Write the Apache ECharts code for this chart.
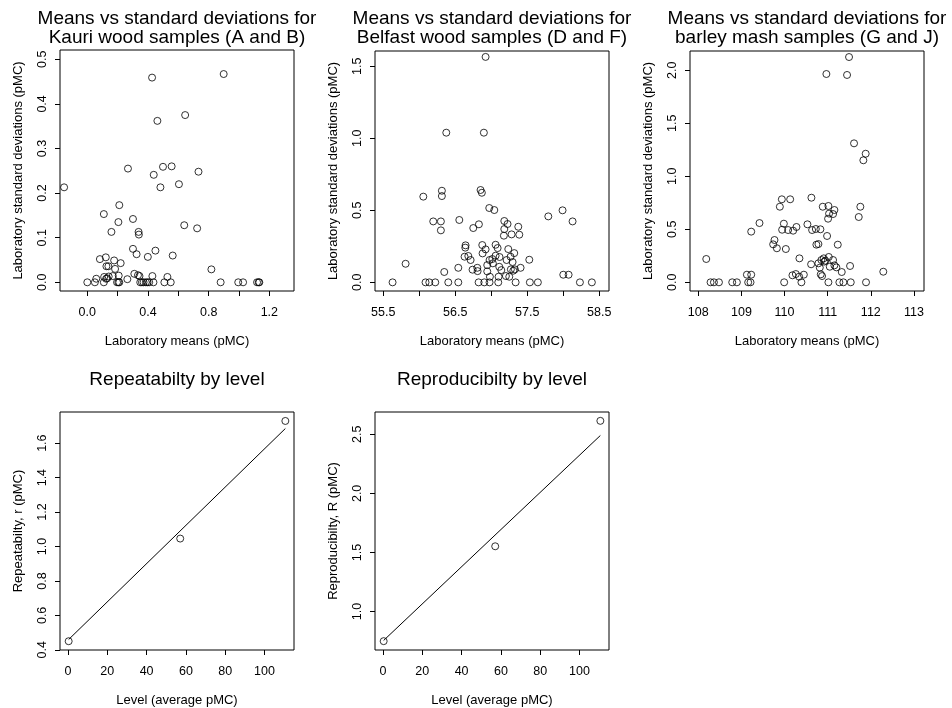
<!DOCTYPE html>
<html>
<head>
<meta charset="utf-8">
<script src="https://cdn.jsdelivr.net/npm/echarts@6/dist/echarts.min.js"></script>
<style>
html,body{margin:0;padding:0;background:#fff;}
#chart{width:952px;height:708px;}
</style>
</head>
<body>
<div id="chart"></div>
<script>
// ---- Data ----
const kauriMeans = [0.427,0.899,0.462,0.645,0.268,0.438,0.499,0.556,0.733,-0.153,0.604,0.482,0.211,0.109,0.205,0.301,0.639,0.724,0.159,0.338,0.340,0.301,0.325,0.449,0.399,0.563,0.083,0.122,0.177,0.220,0.126,0.139,0.183,0.818,0.310,0.334,0.344,0.429,0.528,0.111,0.141,0.168,0.207,0.059,0.124,0.264,0.131,
  0.0,0.050,0.109,0.196,0.205,0.211,0.349,0.360,0.371,0.386,0.397,0.408,0.436,0.508,0.550,0.879,0.995,1.027,1.119,1.130,1.134];
const kauriSDs = [0.459,0.467,0.362,0.375,0.255,0.241,0.259,0.260,0.248,0.213,0.220,0.213,0.173,0.153,0.135,0.142,0.128,0.121,0.113,0.113,0.107,0.075,0.063,0.071,0.057,0.060,0.052,0.056,0.049,0.043,0.036,0.036,0.030,0.029,0.019,0.016,0.014,0.014,0.012,0.012,0.013,0.014,0.015,0.008,0.008,0.007,0.009,
  0,0,0,0,0,0,0,0,0,0,0,0,0,0,0,0,0,0,0,0,0];

const belfastMeans = [56.921,56.375,56.897,56.056,56.314,56.314,56.851,56.869,56.194,56.300,56.300,56.556,56.750,56.828,56.972,57.042,57.181,57.226,57.181,57.175,57.282,57.375,57.389,57.792,57.990,58.129,
  56.643,56.639,56.875,56.921,57.060,57.088,57.236,57.319,56.879,56.629,56.681,56.713,56.976,57.014,57.060,57.115,57.213,57.268,57.296,57.528,56.944,57.022,57.111,56.740,56.806,56.810,56.944,57.139,57.272,57.306,57.328,57.407,56.542,56.347,55.810,56.981,57.101,57.203,57.250,58.000,58.074,
  55.629,56.087,56.139,56.222,56.403,56.542,56.824,56.903,56.976,57.097,57.338,57.536,57.647,58.231,58.397];
const belfastSDs = [1.565,1.039,1.039,0.595,0.636,0.599,0.641,0.622,0.423,0.423,0.361,0.433,0.377,0.403,0.516,0.502,0.426,0.405,0.370,0.324,0.333,0.386,0.331,0.458,0.500,0.423,
  0.257,0.241,0.259,0.229,0.261,0.238,0.231,0.203,0.201,0.178,0.183,0.155,0.155,0.162,0.185,0.176,0.155,0.178,0.141,0.157,0.120,0.132,0.108,0.088,0.101,0.078,0.076,0.085,0.090,0.081,0.090,0.101,0.101,0.072,0.129,0.039,0.039,0.044,0.039,0.053,0.053,
  0,0,0,0,0,0,0,0,0,0,0,0,0,0,0];

const barleyMeans = [111.495,110.970,111.449,111.611,111.881,111.827,109.937,110.130,109.891,110.623,110.886,111.017,111.156,111.125,111.032,111.009,111.757,111.720,109.419,109.227,109.984,109.944,110.083,110.199,110.276,110.530,110.639,110.725,110.831,110.986,109.767,109.736,109.822,110.030,110.738,110.785,111.234,
  108.185,110.345,110.616,110.785,110.854,110.909,110.947,111.025,110.920,111.125,110.817,111.048,111.156,111.202,111.326,111.519,112.289,109.127,109.227,110.183,110.262,110.338,110.447,110.840,110.870,
  108.285,108.363,108.479,108.787,108.895,109.157,109.211,109.991,110.391,111.017,111.271,111.364,111.535,111.889];
const barleySDs = [2.125,1.965,1.956,1.311,1.213,1.151,0.783,0.783,0.713,0.798,0.713,0.720,0.682,0.644,0.648,0.600,0.713,0.616,0.559,0.478,0.553,0.496,0.493,0.487,0.522,0.547,0.493,0.503,0.500,0.437,0.399,0.358,0.321,0.314,0.355,0.361,0.355,
  0.220,0.226,0.170,0.179,0.210,0.226,0.204,0.239,0.195,0.210,0.138,0.147,0.160,0.141,0.097,0.154,0.100,0.072,0.072,0.066,0.078,0.053,0.072,0.075,0.059,
  0,0,0,0,0,0,0,0,0,0,0,0,0,0];

const levels = [0.35, 57.1, 110.6];
const repeatability = [0.45, 1.046, 1.729];
const reproducibility = [0.749, 1.552, 2.614];
const fitLevels = [0.35, 110.6];
const repeatFit = [0.46, 1.685];
const reproFit = [0.755, 2.49];

// tick values
const xTicks1 = [0,0.2,0.4,0.6,0.8,1.0,1.2], xLabels1 = [0,0.4,0.8,1.2];
const yTicks1 = [0,0.1,0.2,0.3,0.4,0.5];
const xTicks2 = [55.5,56,56.5,57,57.5,58,58.5], xLabels2 = [55.5,56.5,57.5,58.5];
const yTicks2 = [0,0.5,1.0,1.5];
const xTicks3 = [108,109,110,111,112,113];
const yTicks3 = [0,0.5,1.0,1.5,2.0];
const xTicksLvl = [0,20,40,60,80,100];
const yTicks4 = [0.4,0.6,0.8,1.0,1.2,1.4,1.6];
const yTicks5 = [1.0,1.5,2.0,2.5];

const titles = [
  ['Means vs standard deviations for','Kauri wood samples (A and B)'],
  ['Means vs standard deviations for','Belfast wood samples (D and F)'],
  ['Means vs standard deviations for','barley mash samples (G and J)'],
  ['Repeatabilty by level'],
  ['Reproducibilty by level']
];

// ---- Layout ----
const FONT = "'Liberation Sans', Arial, Helvetica, sans-serif";
const grids = [
  {left:60, top:50, width:234, height:241},
  {left:375, top:51, width:234, height:240},
  {left:690, top:51, width:234, height:240},
  {left:60, top:412, width:234, height:240},
  {left:375, top:412, width:234, height:240}
];
const zip = (a,b) => a.map((v,i) => [v, b[i]]);

function xAx(i, min, max, ticks, labels, fmt, name){
  return {type:'value', gridIndex:i, min:min, max:max, name:name, nameLocation:'middle', nameGap:44,
    nameTextStyle:{fontFamily:FONT, fontSize:13, color:'#000'},
    axisLine:{show:false, onZero:false}, splitLine:{show:false},
    axisTick:{show:true, inside:false, length:5, customValues:ticks, lineStyle:{color:'#000', width:1}},
    axisLabel:{show:true, customValues:labels, margin:15, fontFamily:FONT, fontSize:12.5, color:'#000', formatter:fmt}};
}
function yAx(i, min, max, ticks, labels, fmt, name){
  return {type:'value', gridIndex:i, min:min, max:max, name:name, nameLocation:'middle', nameGap:35,
    nameTextStyle:{fontFamily:FONT, fontSize:13, color:'#000'},
    axisLine:{show:false, onZero:false}, splitLine:{show:false},
    axisTick:{show:true, inside:false, length:5, customValues:ticks, lineStyle:{color:'#000', width:1}},
    axisLabel:{show:true, rotate:90, customValues:labels, margin:11, fontFamily:FONT, fontSize:12.5, color:'#000', formatter:fmt}};
}
const f1 = v => Number(v).toFixed(1);
const f0 = v => String(Math.round(v));

const scatterStyle = {color:'rgba(0,0,0,0)', borderColor:'#000', borderWidth:1};
function sc(i, data){
  return {type:'scatter', xAxisIndex:i, yAxisIndex:i, data:data, symbol:'circle', symbolSize:7,
    itemStyle:scatterStyle, emphasis:{disabled:true}, silent:true};
}

const graphics = [];
const titleCenters = [177, 492, 807, 177, 492];
titles.forEach((lines, k) => {
  const baseY = k < 3 ? 25 : 386;
  lines.forEach((t, j) => {
    graphics.push({type:'text', x:titleCenters[k], y:baseY + j*18.3 - 5.8,
      style:{text:t, fill:'#000', font:'19px ' + FONT, textAlign:'center', textVerticalAlign:'middle'}});
  });
});

const option = {
  animation:false,
  backgroundColor:'#fff',
  textStyle:{fontFamily:FONT},
  grid: grids.map(g => Object.assign({show:true, borderColor:'#000', borderWidth:1, backgroundColor:'transparent', containLabel:false}, g)),
  xAxis:[
    xAx(0, -0.180, 1.3626, xTicks1, xLabels1, f1, 'Laboratory means (pMC)'),
    xAx(1, 55.385, 58.635, xTicks2, xLabels2, f1, 'Laboratory means (pMC)'),
    xAx(2, 107.808, 113.233, xTicks3, xTicks3, f0, 'Laboratory means (pMC)'),
    xAx(3, -4.06, 115.0, xTicksLvl, xTicksLvl, f0, 'Level (average pMC)'),
    xAx(4, -4.06, 115.0, xTicksLvl, xTicksLvl, f0, 'Level (average pMC)')
  ],
  yAxis:[
    yAx(0, -0.0195, 0.5209, yTicks1, yTicks1, f1, 'Laboratory standard deviations (pMC)'),
    yAx(1, -0.060, 1.606, yTicks2, yTicks2, f1, 'Laboratory standard deviations (pMC)'),
    yAx(2, -0.082, 2.182, yTicks3, yTicks3, f1, 'Laboratory standard deviations (pMC)'),
    yAx(3, 0.399, 1.781, yTicks4, yTicks4, f1, 'Repeatabilty, r (pMC)'),
    yAx(4, 0.674, 2.689, yTicks5, yTicks5, f1, 'Reproducibilty, R (pMC)')
  ],
  series:[
    sc(0, zip(kauriMeans, kauriSDs)),
    sc(1, zip(belfastMeans, belfastSDs)),
    sc(2, zip(barleyMeans, barleySDs)),
    sc(3, zip(levels, repeatability)),
    sc(4, zip(levels, reproducibility)),
    {type:'line', xAxisIndex:3, yAxisIndex:3, data:zip(fitLevels, repeatFit), symbol:'none', silent:true,
      lineStyle:{color:'#000', width:1}},
    {type:'line', xAxisIndex:4, yAxisIndex:4, data:zip(fitLevels, reproFit), symbol:'none', silent:true,
      lineStyle:{color:'#000', width:1}}
  ],
  graphic: graphics
};

const chart = echarts.init(document.getElementById('chart'), null, {renderer:'canvas'});
chart.setOption(option);
</script>
</body>
</html>
